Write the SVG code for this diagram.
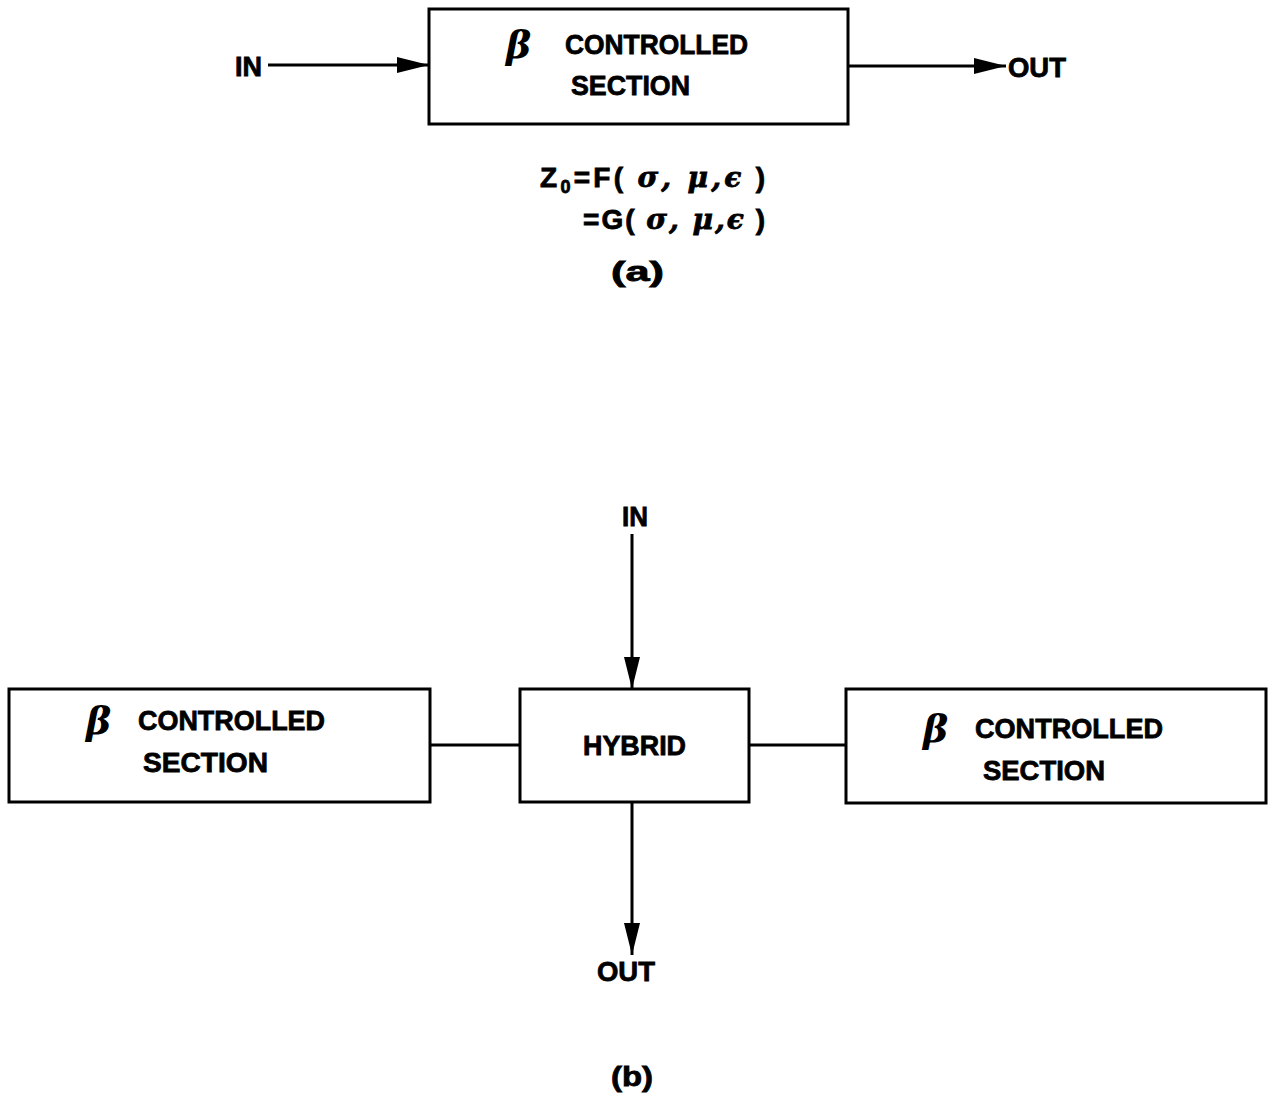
<svg xmlns="http://www.w3.org/2000/svg" width="1268" height="1094" viewBox="0 0 1268 1094">
<style>
.box{fill:#fff;stroke:#000;stroke-width:3}
.ln{stroke:#000;stroke-width:3;fill:none}
.t{font-family:"Liberation Sans",Arial,sans-serif;font-weight:bold;font-size:28px;fill:#000;stroke:#000;stroke-width:0.8}
.g{font-family:"DejaVu Serif","Liberation Serif",serif;font-style:italic;font-weight:bold;font-size:38px;fill:#000}
.gr{font-family:"DejaVu Serif","Liberation Serif",serif;font-style:italic}
</style>
<defs>
<marker id="ah" viewBox="0 0 32 16" refX="32" refY="8" markerWidth="32" markerHeight="16" markerUnits="userSpaceOnUse" orient="auto">
<path d="M0,0 L32,8 L0,16 Z" fill="#000"/>
</marker>
</defs>
<rect width="1268" height="1094" fill="#fff"/>
<g id="connectors">
<line class="ln" x1="268" y1="65" x2="429" y2="65" marker-end="url(#ah)"/>
<line class="ln" x1="848" y1="66" x2="1006" y2="66" marker-end="url(#ah)"/>
<line class="ln" x1="632" y1="534" x2="632" y2="689" marker-end="url(#ah)"/>
<line class="ln" x1="430" y1="745" x2="520" y2="745"/>
<line class="ln" x1="749" y1="745" x2="846" y2="745"/>
<line class="ln" x1="632" y1="802" x2="632" y2="955" marker-end="url(#ah)"/>
</g>
<g id="labels">
<text class="t" x="235" y="76" textLength="27" lengthAdjust="spacingAndGlyphs">IN</text>
<text class="t" x="1008" y="77" textLength="58" lengthAdjust="spacingAndGlyphs">OUT</text>
<text class="t" x="622" y="526" textLength="26" lengthAdjust="spacingAndGlyphs">IN</text>
<text class="t" x="597" y="981" textLength="58" lengthAdjust="spacingAndGlyphs">OUT</text>
</g>
<g id="top-section">
<rect class="box" x="429" y="9" width="419" height="115"/>
<text class="g" x="506" y="58">β</text>
<text class="t" x="565" y="54" textLength="183" lengthAdjust="spacingAndGlyphs">CONTROLLED</text>
<text class="t" x="571" y="95" textLength="119" lengthAdjust="spacingAndGlyphs">SECTION</text>
</g>
<g id="formula">
<text class="t" x="540" y="187" font-size="28" textLength="225">Z<tspan font-size="18" dy="6">0</tspan><tspan dy="-6">=F( </tspan><tspan class="gr">σ, μ,ϵ</tspan>  )</text>
<text class="t" x="583" y="229" font-size="28" textLength="182">=G( <tspan class="gr">σ, μ,ϵ</tspan>   )</text>
<text class="t" x="611" y="281" font-size="26" textLength="53" lengthAdjust="spacingAndGlyphs">(a)</text>
</g>
<g id="left-section">
<rect class="box" x="9" y="689" width="421" height="113"/>
<text class="g" x="86" y="734">β</text>
<text class="t" x="138" y="730" textLength="187" lengthAdjust="spacingAndGlyphs">CONTROLLED</text>
<text class="t" x="143" y="772" textLength="125" lengthAdjust="spacingAndGlyphs">SECTION</text>
</g>
<g id="hybrid">
<rect class="box" x="520" y="689" width="229" height="113"/>
<text class="t" x="583" y="755" textLength="103" lengthAdjust="spacingAndGlyphs" font-size="24">HYBRID</text>
</g>
<g id="right-section">
<rect class="box" x="846" y="689" width="420" height="114"/>
<text class="g" x="923" y="742">β</text>
<text class="t" x="975" y="738" textLength="188" lengthAdjust="spacingAndGlyphs">CONTROLLED</text>
<text class="t" x="983" y="780" textLength="122" lengthAdjust="spacingAndGlyphs">SECTION</text>
</g>
<text class="t" x="611" y="1086" font-size="24" textLength="42" lengthAdjust="spacingAndGlyphs">(b)</text>
</svg>
